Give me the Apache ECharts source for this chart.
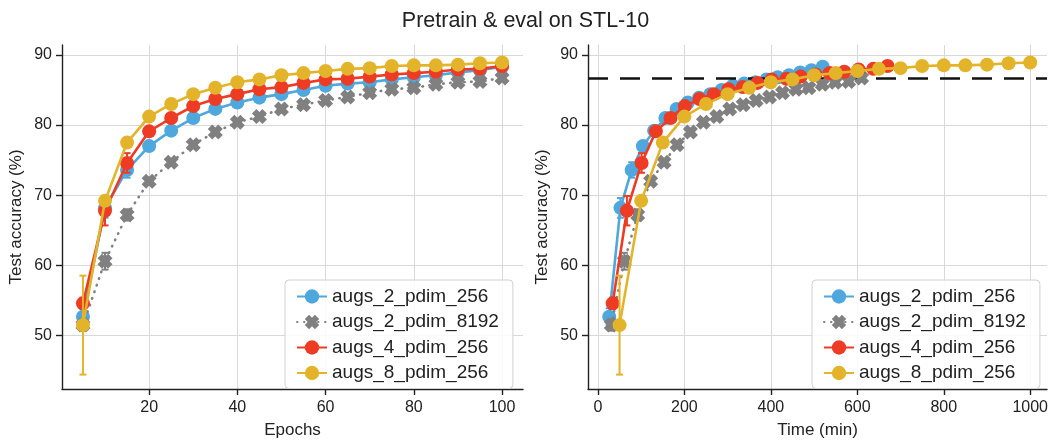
<!DOCTYPE html>
<html>
<head>
<meta charset="utf-8">
<script src="https://cdn.jsdelivr.net/npm/echarts@6/dist/echarts.min.js"></script>
<style>
html,body{margin:0;padding:0;background:#fff;}
#chart{width:1051px;height:444px;}
</style>
</head>
<body>
<div id="chart"></div>
<script>
// ---------- data ----------
const seriesNames = ['augs_2_pdim_256', 'augs_2_pdim_8192', 'augs_4_pdim_256', 'augs_8_pdim_256'];
const epochs = [5, 10, 15, 20, 25, 30, 35, 40, 45, 50, 55, 60, 65, 70, 75, 80, 85, 90, 95, 100];

const accA2P256  = [52.7, 68.2, 73.6, 77.0, 79.2, 81.0, 82.3, 83.2, 83.9, 84.4, 85.0, 85.6, 85.9, 86.1, 86.5, 86.8, 87.1, 87.5, 87.8, 88.3];
const accA2P8192 = [51.5, 60.6, 67.2, 72.0, 74.7, 77.2, 79.0, 80.4, 81.2, 82.3, 82.9, 83.5, 84.0, 84.6, 85.1, 85.3, 85.8, 86.1, 86.2, 86.7];
const accA4P256  = [54.6, 67.8, 74.6, 79.1, 81.0, 82.7, 83.7, 84.4, 85.1, 85.4, 86.0, 86.5, 86.6, 86.9, 87.2, 87.4, 87.6, 87.9, 88.0, 88.4];
const accA8P256  = [51.5, 69.2, 77.5, 81.2, 83.0, 84.4, 85.3, 86.1, 86.5, 87.1, 87.4, 87.7, 88.0, 88.1, 88.4, 88.5, 88.5, 88.6, 88.8, 88.9];

const errA2P256  = [1.2, 1.4, 1.1, 0.6, 0.5, 0.4, 0.3, 0.3, 0.3, 0.3, 0.3, 0.3, 0.3, 0.3, 0.3, 0.3, 0.3, 0.3, 0.3, 0.3];
const errA2P8192 = [0.8, 1.2, 0.8, 0.5, 0.4, 0.3, 0.3, 0.3, 0.3, 0.3, 0.3, 0.3, 0.3, 0.3, 0.3, 0.3, 0.3, 0.3, 0.3, 0.3];
const errA4P256  = [0.8, 2.1, 1.4, 0.6, 0.4, 0.3, 0.3, 0.3, 0.3, 0.3, 0.3, 0.3, 0.3, 0.3, 0.3, 0.3, 0.3, 0.3, 0.3, 0.3];
const errA8P256  = [7.05, 0.6, 0.5, 0.4, 0.3, 0.3, 0.3, 0.3, 0.3, 0.3, 0.3, 0.3, 0.3, 0.3, 0.3, 0.3, 0.3, 0.3, 0.3, 0.3];

const timeA2P256  = [26, 52, 78, 104, 130, 156, 182, 208, 234, 260, 286, 312, 338, 364, 390, 416, 442, 468, 494, 520];
const timeA2P8192 = [31, 61, 92, 122, 153, 183, 214, 244, 275, 305, 336, 366, 397, 427, 458, 488, 519, 549, 580, 610];
const timeA4P256  = [34, 67, 101, 134, 168, 201, 235, 268, 302, 335, 369, 402, 436, 469, 503, 536, 570, 603, 637, 670];
const timeA8P256  = [50, 100, 150, 200, 250, 300, 350, 400, 450, 500, 550, 600, 650, 700, 750, 800, 850, 900, 950, 1000];

const refAccuracy = 86.6;

const epochTicks = [20, 40, 60, 80, 100];
const timeTicks = [0, 200, 400, 600, 800, 1000];
const accTicks = [50, 60, 70, 80, 90];

// ---------- styling ----------
const colors = ['#4ea7dd', '#808080', '#ed3b24', '#e3b42a'];
const XSYM = 'path://M3 0L5 2L7 0L10 3L8 5L10 7L7 10L5 8L3 10L0 7L2 5L0 3Z';
const FONT = 'Liberation Sans, Arial, sans-serif';
const INK = '#222';

const accs = [accA2P256, accA2P8192, accA4P256, accA8P256];
const errs = [errA2P256, errA2P8192, errA4P256, errA8P256];
const times = [timeA2P256, timeA2P8192, timeA4P256, timeA8P256];

function errRenderer(color) {
  return function (params, api) {
    const x = api.value(0), y = api.value(1), e = api.value(2);
    const t = api.coord([x, y + e]);
    const b = api.coord([x, y - e]);
    const w = 3.5;
    const st = {stroke: color, lineWidth: 2};
    return {type: 'group', children: [
      {type: 'line', shape: {x1: t[0], y1: t[1], x2: b[0], y2: b[1]}, style: st},
      {type: 'line', shape: {x1: t[0] - w, y1: t[1], x2: t[0] + w, y2: t[1]}, style: st},
      {type: 'line', shape: {x1: b[0] - w, y1: b[1], x2: b[0] + w, y2: b[1]}, style: st}
    ]};
  };
}

function xAxisCfg(grid, min, max, ticks, name) {
  return {
    type: 'value', gridIndex: grid, min: min, max: max,
    name: name, nameLocation: 'middle', nameGap: 33,
    nameTextStyle: {fontFamily: FONT, fontSize: 17, color: INK},
    axisLine: {show: true, onZero: false, lineStyle: {color: INK, width: 1.4}},
    axisTick: {show: true, inside: false, length: 6, customValues: ticks, lineStyle: {color: INK, width: 1.4}},
    axisLabel: {customValues: ticks, fontFamily: FONT, fontSize: 16, color: INK, margin: 11,
      formatter: function (v) { return String(v); }},
    splitLine: {show: true, lineStyle: {color: '#d9d9d9', width: 1}}
  };
}
function yAxisCfg(grid) {
  return {
    type: 'value', gridIndex: grid, min: 42.4, max: 91.4,
    name: 'Test accuracy (%)', nameLocation: 'middle', nameGap: 37, nameRotate: 90,
    nameTextStyle: {fontFamily: FONT, fontSize: 17, color: INK},
    axisLine: {show: true, onZero: false, lineStyle: {color: INK, width: 1.4}},
    axisTick: {show: true, inside: false, length: 6, customValues: accTicks, lineStyle: {color: INK, width: 1.4}},
    axisLabel: {customValues: accTicks, fontFamily: FONT, fontSize: 16, color: INK, margin: 10,
      formatter: function (v) { return String(v); }},
    splitLine: {show: true, lineStyle: {color: '#d9d9d9', width: 1}}
  };
}

const series = [];
[0, 1].forEach(function (g) {
  if (g === 1) {
    series.push({
      type: 'line', xAxisIndex: 1, yAxisIndex: 1, data: [], z: 1, silent: true,
      markLine: {
        symbol: 'none', silent: true, animation: false, label: {show: false},
        lineStyle: {type: [20, 12], color: '#111', width: 2.5},
        emphasis: {disabled: true},
        data: [{yAxis: refAccuracy}]
      }
    });
  }
  for (let i = 0; i < 4; i++) {
    const xs = g === 0 ? epochs : times[i];
    const c = colors[i];
    series.push({
      type: 'custom', name: 'err' + g + '_' + i, xAxisIndex: g, yAxisIndex: g,
      renderItem: errRenderer(c), silent: true, z: 3 + i * 2,
      encode: {x: 0, y: 1},
      data: xs.map(function (x, k) { return [x, accs[i][k], errs[i][k]]; })
    });
    series.push({
      type: 'line', name: seriesNames[i], xAxisIndex: g, yAxisIndex: g,
      z: 4 + i * 2, silent: true,
      symbol: i === 1 ? XSYM : 'circle',
      symbolSize: i === 1 ? 15 : 14,
      showSymbol: true,
      itemStyle: {color: c, opacity: 1},
      lineStyle: i === 1 ? {color: c, width: 2.6, type: [0.5, 6.5], cap: 'round'} : {color: c, width: 2.6},
      emphasis: {disabled: true},
      data: xs.map(function (x, k) { return [x, accs[i][k]]; })
    });
  }
});

function legendCfg(left) {
  return {
    data: seriesNames, orient: 'vertical', left: left, top: 280,
    padding: [7, 14, 6, 11],
    itemGap: 6.5, itemWidth: 30, itemHeight: 18,
    backgroundColor: 'rgba(255,255,255,0.85)',
    borderColor: '#d0d0d0', borderWidth: 1, borderRadius: 4,
    textStyle: {fontFamily: FONT, fontSize: 19, color: INK},
    selectedMode: false, z: 20
  };
}

const option = {
  animation: false,
  backgroundColor: '#fff',
  title: {text: 'Pretrain & eval on STL-10', left: 'center', top: 5,
    textStyle: {fontFamily: FONT, fontSize: 21.5, fontWeight: 'normal', color: INK}},
  grid: [
    {left: 62, top: 45, width: 461, height: 349},
    {left: 588, top: 45, width: 460, height: 349}
  ],
  xAxis: [
    xAxisCfg(0, 0.25, 104.75, epochTicks, 'Epochs'),
    xAxisCfg(1, -23, 1039, timeTicks, 'Time (min)')
  ],
  yAxis: [yAxisCfg(0), yAxisCfg(1)],
  legend: [legendCfg(285), legendCfg(812)],
  series: series
};

const chart = echarts.init(document.getElementById('chart'), null, {renderer: 'canvas'});
chart.setOption(option);
</script>
</body>
</html>
